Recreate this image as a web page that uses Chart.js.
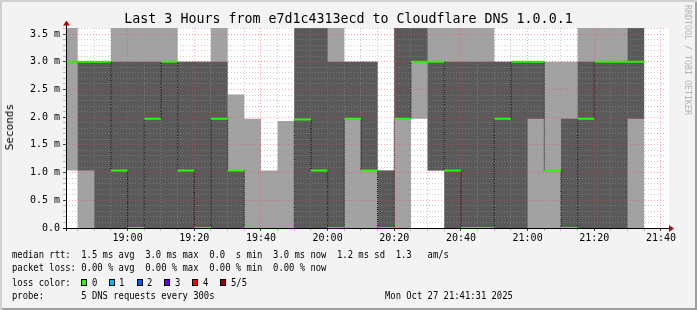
<!DOCTYPE html>
<html lang="en">
<head>
<meta charset="UTF-8">
<title>Last 3 Hours from e7d1c4313ecd to Cloudflare DNS 1.0.0.1</title>
<script src="https://cdn.jsdelivr.net/npm/chart.js"></script>
<style>
  html, body { margin: 0; padding: 0; background: #f3f3f3; }
  #frame {
    position: relative; width: 697px; height: 310px; overflow: hidden;
    background: #f3f3f3;
    box-shadow: inset 2px 2px 0 #cfcfcf, inset -2px -2px 0 #9e9e9e;
    font-family: "DejaVu Sans Mono", monospace; color: #000;
  }
  #chart { position: absolute; left: 0; top: 0; }
  .txt { position: absolute; margin: 0; white-space: pre; }
  #title { left: 0; width: 697px; top: 11px; text-align: center; font-size: 13.3px; line-height: 15px; }
  #ylab { left: 4px; top: 104px; font-size: 11px; line-height: 12px; writing-mode: vertical-rl; transform: rotate(180deg); }
  #mark { left: 683px; top: 5px; font-size: 8.3px; line-height: 9px; color: #b4b4b4; writing-mode: vertical-rl; }
  .leg { left: 12px; font-size: 10px; line-height: 12px; transform: scaleX(0.885); transform-origin: 0 0; }
  .box { position: absolute; width: 4px; height: 5px; border: 1px solid #000; }
</style>
</head>
<body>
<div id="frame">
  <canvas id="chart" width="697" height="310"></canvas>
  <div id="title" class="txt">Last 3 Hours from e7d1c4313ecd to Cloudflare DNS 1.0.0.1</div>
  <div id="ylab" class="txt">Seconds</div>
  <div id="mark" class="txt">RRDTOOL / TOBI OETIKER</div>
  <pre class="txt leg" style="top:249px">median rtt:  1.5 ms avg  3.0 ms max  0.0  s min  3.0 ms now  1.2 ms sd  1.3   am/s</pre>
  <pre class="txt leg" style="top:262px">packet loss: 0.00 % avg  0.00 % max  0.00 % min  0.00 % now</pre>
  <pre class="txt leg" style="top:277px">loss color:</pre>
  <pre class="txt leg" style="top:290px">probe:       5 DNS requests every 300s                                Mon Oct 27 21:41:31 2025</pre>
</div>

<script>
    // start of each 5 minute step (300s)
    const stepStarts = ['18:40', '18:45', '18:50', '18:55', '19:00', '19:05', '19:10', '19:15', '19:20', '19:25',
                        '19:30', '19:35', '19:40', '19:45', '19:50', '19:55', '20:00', '20:05', '20:10', '20:15',
                        '20:20', '20:25', '20:30', '20:35', '20:40', '20:45', '20:50', '20:55', '21:00', '21:05',
                        '21:10', '21:15', '21:20', '21:25', '21:30'];
    const lastStepEnd = '21:35';
    const viewStart = '18:41:31';
    const viewEnd = '21:41:31';

    // the 5 sorted pings of every step, in ms (3.8 = above the top of the graph)
    const pingMin = [1.04, 0, 0, 0, 0, 0, 0, 0, 0, 0,
                     0, 0, 0, 0, 0, 0, 0, 0, 0, 0,
                     0, 1.97, 1.04, 0, 0, 0, 0, 0, 0, 0,
                     0, 0, 0, 0, 0];
    const ping2 = [3.0, 1.04, 0, 0, 0, 0, 0, 0, 0, 0,
                   0, 0, 0, 0, 0, 0, 0, 1.97, 1.04, 0,
                   1.97, 3.0, 1.04, 0, 0, 0, 0, 0, 1.97, 1.04,
                   0, 0, 0, 0, 1.97];
    const pingMedian = [3.0, 3.0, 3.0, 1.04, 0, 1.97, 3.0, 1.04, 0, 1.97,
                        1.04, 0, 0, 0, 1.96, 1.04, 0, 1.97, 1.04, 0,
                        1.97, 3.0, 3.0, 1.04, 0, 0, 1.97, 3.0, 3.0, 1.04,
                        0, 1.97, 3.0, 3.0, 3.0];
    const ping4 = [3.0, 3.0, 3.0, 3.0, 3.0, 3.0, 3.0, 3.0, 3.0, 3.0,
                   1.04, 0, 0, 0, 3.8, 3.8, 3.0, 3.0, 3.0, 1.04,
                   3.8, 3.8, 3.0, 3.0, 3.0, 3.0, 3.0, 3.0, 3.0, 1.04,
                   1.97, 3.0, 3.0, 3.0, 3.8];
    const pingMax = [3.8, 3.0, 3.0, 3.8, 3.8, 3.8, 3.8, 3.0, 3.0, 3.8,
                     2.41, 1.97, 1.04, 1.93, 3.8, 3.8, 3.8, 3.0, 3.0, 1.04,
                     3.8, 3.8, 3.8, 3.8, 3.8, 3.8, 3.0, 3.0, 3.0, 3.0,
                     3.0, 3.8, 3.8, 3.8, 3.8];

    const xLabels = ['19:00', '19:20', '19:40', '20:00', '20:20', '20:40', '21:00', '21:20', '21:40'];
    const yLabels = ['0.0', '0.5 m', '1.0 m', '1.5 m', '2.0 m', '2.5 m', '3.0 m', '3.5 m'];
    const yTop = 3.61;

    const lossColors = [
        { label: '0', color: '#26ff00' },
        { label: '1', color: '#00b8ff' },
        { label: '2', color: '#0059ff' },
        { label: '3', color: '#5e00ff' },
        { label: '4', color: '#ff0000' },
        { label: '5/5', color: '#a10000' }
    ];

    // minutes after 18:00
    function toMin(t) {
        const p = t.split(':').map(Number);
        return (p[0] - 18) * 60 + p[1] + (p[2] || 0) / 60;
    }

    const starts = stepStarts.map(toMin);
    const endX = toMin(lastStepEnd);

    function stepped(values) {
        const pts = starts.map((x, i) => ({ x: x, y: values[i] }));
        pts.push({ x: endX, y: values[values.length - 1] });
        return pts;
    }

    // green median: one flat piece per step
    const medianPieces = [];
    starts.forEach((x, i) => {
        const x2 = i + 1 < starts.length ? starts[i + 1] : endX;
        medianPieces.push({ x: x, y: pingMedian[i] }, { x: x2, y: pingMedian[i] }, { x: x2, y: null });
    });

    const xGrid = [];
    for (let m = 45; m <= 220; m += 5) xGrid.push(m);
    const yGrid = [];
    for (let i = 0; i <= 36; i++) yGrid.push(i / 10);

    const xMajor = v => xLabels.some(l => Math.abs(toMin(l) - v) < 0.01);
    const yMajor = v => Math.abs(v * 2 - Math.round(v * 2)) < 0.001;

    const rrdFrame = {
        id: 'rrdFrame',
        beforeDraw(chart) {
            const { ctx, chartArea: a } = chart;
            ctx.save();
            ctx.fillStyle = '#ffffff';
            ctx.fillRect(a.left, a.top, a.right - a.left + 3, a.bottom - a.top);
            ctx.restore();
        },
        afterDraw(chart) {
            const { ctx, chartArea: a } = chart;
            const yb = a.bottom + 0.5, xl = a.left + 0.5;
            ctx.save();
            ctx.strokeStyle = '#000';
            ctx.lineWidth = 1;
            ctx.beginPath();
            ctx.moveTo(a.left - 3, yb);
            ctx.lineTo(a.right + 3, yb);
            ctx.moveTo(xl, a.bottom + 3);
            ctx.lineTo(xl, a.top - 3);
            ctx.stroke();
            ctx.fillStyle = '#a01010';
            ctx.beginPath();
            ctx.moveTo(a.right + 3, yb - 3.5);
            ctx.lineTo(a.right + 8, yb);
            ctx.lineTo(a.right + 3, yb + 3.5);
            ctx.fill();
            ctx.beginPath();
            ctx.moveTo(xl - 3.5, a.top - 2.5);
            ctx.lineTo(xl, a.top - 7.5);
            ctx.lineTo(xl + 3.5, a.top - 2.5);
            ctx.fill();
            ctx.restore();
        }
    };

    const tickFont = { family: 'DejaVu Sans Mono', size: 10 };

    new Chart(document.getElementById('chart'), {
        type: 'line',
        data: {
            datasets: [
                {
                    label: 'median',
                    data: medianPieces,
                    borderColor: '#26ff00',
                    borderWidth: 2,
                    spanGaps: false,
                    fill: false,
                    order: 0
                },
                {
                    label: 'median steps',
                    data: stepped(pingMedian),
                    stepped: 'before',
                    borderColor: '#000000',
                    borderWidth: 1,
                    borderDash: [1, 1],
                    fill: false,
                    order: 1
                },
                {
                    label: 'ping 4',
                    data: stepped(ping4),
                    stepped: 'before',
                    borderWidth: 0,
                    backgroundColor: '#5a5a5a',
                    fill: 3,
                    order: 2
                },
                {
                    label: 'ping 2',
                    data: stepped(ping2),
                    stepped: 'before',
                    borderWidth: 0,
                    fill: false,
                    order: 3
                },
                {
                    label: 'max',
                    data: stepped(pingMax),
                    stepped: 'before',
                    borderWidth: 0,
                    backgroundColor: '#a2a2a2',
                    fill: 5,
                    order: 4
                },
                {
                    label: 'min',
                    data: stepped(pingMin),
                    stepped: 'before',
                    borderWidth: 0,
                    fill: false,
                    order: 5
                }
            ]
        },
        options: {
            responsive: false,
            devicePixelRatio: 1,
            animation: false,
            events: [],
            elements: { point: { radius: 0 }, line: { tension: 0 } },
            layout: { padding: { top: 28, right: 31, left: 0, bottom: 0 } },
            plugins: { legend: { display: false }, tooltip: { enabled: false }, title: { display: false } },
            scales: {
                x: {
                    type: 'linear',
                    min: toMin(viewStart),
                    max: toMin(viewEnd),
                    afterBuildTicks: s => { s.ticks = xGrid.map(v => ({ value: v })); },
                    afterFit: s => { s.height = 82; },
                    border: { display: false, dash: [1, 2] },
                    grid: {
                        z: 1,
                        color: c => xMajor(c.tick.value) ? 'rgba(255,60,60,0.45)' : 'rgba(150,150,150,0.5)',
                        tickColor: c => xMajor(c.tick.value) ? '#444' : '#bbb',
                        tickBorderDash: [],
                        tickLength: 3
                    },
                    ticks: {
                        autoSkip: false,
                        maxRotation: 0,
                        padding: 1,
                        color: '#000',
                        font: tickFont,
                        callback: v => {
                            const l = xLabels.find(l => Math.abs(toMin(l) - v) < 0.01);
                            return l || '';
                        }
                    }
                },
                y: {
                    min: 0,
                    max: yTop,
                    afterBuildTicks: s => { s.ticks = yGrid.map(v => ({ value: v })); },
                    afterFit: s => { s.width = 66; },
                    border: { display: false, dash: [1, 2] },
                    grid: {
                        z: 1,
                        color: c => yMajor(c.tick.value) ? 'rgba(255,60,60,0.45)' : 'rgba(150,150,150,0.5)',
                        tickColor: c => yMajor(c.tick.value) ? '#444' : '#bbb',
                        tickBorderDash: [],
                        tickLength: 3
                    },
                    ticks: {
                        autoSkip: false,
                        padding: 3,
                        color: '#000',
                        font: tickFont,
                        callback: v => yMajor(v) ? yLabels[Math.round(v * 2)] : ''
                    }
                }
            }
        },
        plugins: [rrdFrame]
    });

    // loss colour boxes
    const frame = document.getElementById('frame');
    lossColors.forEach((lc, i) => {
        const left = 81 + i * 27.8;
        const box = document.createElement('div');
        box.className = 'box';
        box.style.left = left + 'px';
        box.style.top = '279px';
        box.style.background = lc.color;
        frame.appendChild(box);
        const txt = document.createElement('pre');
        txt.className = 'txt leg';
        txt.style.left = (left + 10.5) + 'px';
        txt.style.top = '277px';
        txt.textContent = lc.label;
        frame.appendChild(txt);
    });
</script>
</body>
</html>
